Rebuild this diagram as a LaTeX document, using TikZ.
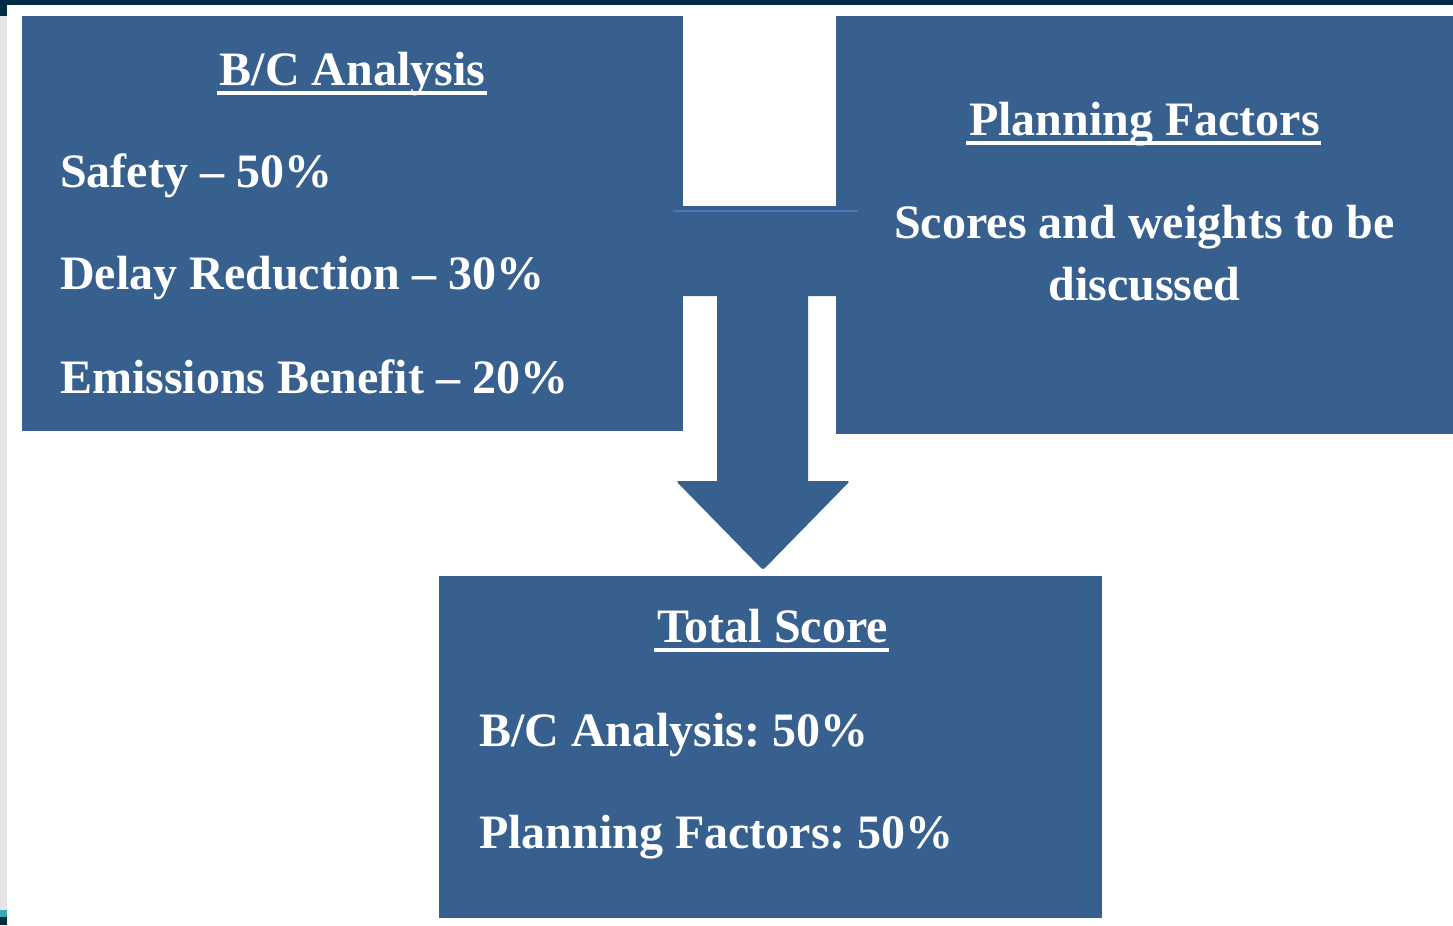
\documentclass[tikz,border=0pt]{standalone}
\usepackage{fontspec}
\setmainfont{Liberation Serif}
\usepackage{tikz}
\usetikzlibrary{positioning}
\frenchspacing

\definecolor{panelblue}{RGB}{55,96,143}
\definecolor{edgeblue}{RGB}{74,122,181}
\definecolor{frameband}{RGB}{0,43,69}
\definecolor{framegray}{RGB}{229,229,229}
\definecolor{frameteal}{RGB}{58,168,175}

\begin{document}
\begin{tikzpicture}[
                x=0.75pt, y=-0.75pt,
                panel/.style={
                    fill=panelblue, draw=none,
                    inner sep=0pt
                },
                heading/.style={
                    text=white, inner sep=0pt,
                    font=\bfseries\fontsize{36}{43}\selectfont
                },
                entry/.style={
                    heading, anchor=base west
                },
                headline/.style={
                    draw=white, line width=3pt
                }
            ]

            \useasboundingbox (0,0) rectangle (1453,925);

            % --- Rand des Bildschirmfotos ---
            \fill[frameband] (0,0) rectangle (1453,5);
            \fill[frameband] (0,0) rectangle (7,16);
            \fill[framegray] (0,16) rectangle (7,910);
            \fill[frameteal] (0,910) rectangle (7,917);
            \fill[frameband] (0,917) rectangle (7,925);

            % --- Pfeil zwischen den Kaesten ---
            \fill[panelblue] (683,206) -- (836,206) -- (836,296) -- (808,296)
                -- (808,481) [rounded corners=2pt] -- (850,481) -- (763,570) -- (676,481)
                [sharp corners] -- (717,481) -- (717,296) -- (683,296) -- cycle;

            % --- Kaesten ---
            \node[panel, minimum width=495.75pt, minimum height=311.25pt] (boxBC) at (352.5,223.5) {};
            \node[panel, minimum width=462.75pt, minimum height=313.5pt] (boxPF) at (1144.5,225) {};
            \node[panel, minimum width=497.25pt, minimum height=256.5pt] (boxTS) at (770.5,747) {};

            \draw[edgeblue, line width=1.5pt] (673,211) -- (858,211);

            % --- B/C Analysis ---
            \node[heading, anchor=base] (bcTitle) at (352.5,85) {B/C Analysis};
            \node[entry] (bcSafety) at (60,187) {Safety -- 50\%};
            \node[entry] (bcDelay) at (60,289) {Delay Reduction -- 30\%};
            \node[entry] (bcEmission) at (60,393) {Emissions Benefit -- 20\%};

            % --- Planning Factors ---
            \node[heading, anchor=base] (pfTitle) at (1144.5,135) {Planning Factors};
            \node[heading, anchor=base] (pfScores) at (1144.5,238) {Scores and weights to be};
            \node[heading, anchor=base] (pfDiscuss) at (1144.5,300) {discussed};

            % --- Total Score ---
            \node[heading, anchor=base] (tsTitle) at (772.5,642) {Total Score};
            \node[entry] (tsBC) at (479,746) {B/C Analysis: 50\%};
            \node[entry] (tsPF) at (479,848) {Planning Factors: 50\%};

            \foreach \t in {bcTitle, pfTitle, tsTitle} {
                \draw[headline] ([xshift=-2pt, yshift=-6pt]\t.base west) -- ([xshift=1pt, yshift=-6pt]\t.base east);
            }

        \end{tikzpicture}
\end{document}
